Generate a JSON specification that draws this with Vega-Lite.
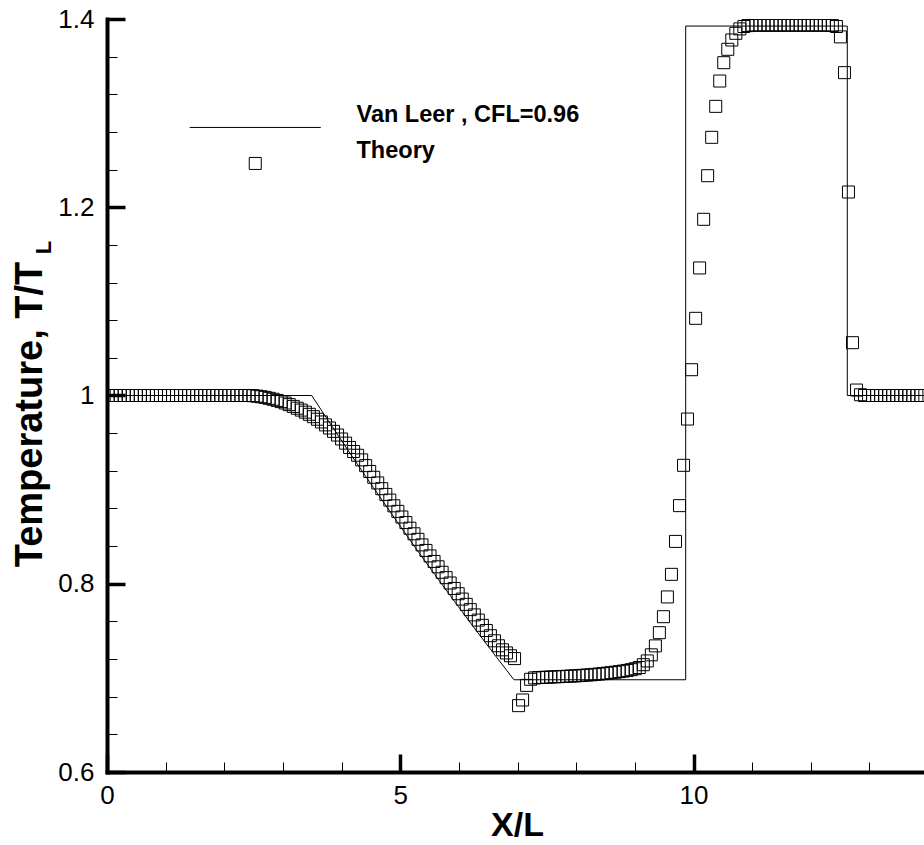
{
  "$schema": "https://vega.github.io/schema/vega-lite/v6.json",
  "width": 817,
  "height": 753,
  "autosize": {"type": "none"},
  "padding": {"left": 107, "top": 19, "right": 0, "bottom": 73},
  "background": "white",
  "config": {"view": {"stroke": null}, "font": "Liberation Sans", "axis": {"domainWidth": 4, "domainColor": "black", "domainCap": "square"}},
  "datasets": {
    "line": [
      {"k": 0, "x": 0, "y": 1},
      {"k": 1, "x": 3.49, "y": 1},
      {"k": 2, "x": 3.84, "y": 0.9669},
      {"k": 3, "x": 4.19, "y": 0.9343},
      {"k": 4, "x": 4.54, "y": 0.9024},
      {"k": 5, "x": 4.89, "y": 0.8709},
      {"k": 6, "x": 5.24, "y": 0.84},
      {"k": 7, "x": 5.59, "y": 0.8097},
      {"k": 8, "x": 5.94, "y": 0.78},
      {"k": 9, "x": 6.29, "y": 0.7507},
      {"k": 10, "x": 6.64, "y": 0.7221},
      {"k": 11, "x": 6.939, "y": 0.698},
      {"k": 12, "x": 9.867, "y": 0.698},
      {"k": 13, "x": 9.867, "y": 1.3925},
      {"k": 14, "x": 12.622, "y": 1.3925},
      {"k": 15, "x": 12.622, "y": 1.0},
      {"k": 16, "x": 14, "y": 1.0}
    ],
    "sq": [
      {"x": 0.02, "y": 1}, {"x": 0.089, "y": 1}, {"x": 0.157, "y": 1}, {"x": 0.226, "y": 1},
      {"x": 0.294, "y": 1}, {"x": 0.363, "y": 1}, {"x": 0.432, "y": 1}, {"x": 0.5, "y": 1},
      {"x": 0.569, "y": 1}, {"x": 0.637, "y": 1}, {"x": 0.706, "y": 1}, {"x": 0.775, "y": 1},
      {"x": 0.843, "y": 1}, {"x": 0.912, "y": 1}, {"x": 0.98, "y": 1}, {"x": 1.049, "y": 1},
      {"x": 1.118, "y": 1}, {"x": 1.186, "y": 1}, {"x": 1.255, "y": 1}, {"x": 1.323, "y": 1},
      {"x": 1.392, "y": 1}, {"x": 1.461, "y": 1}, {"x": 1.529, "y": 1}, {"x": 1.598, "y": 1},
      {"x": 1.666, "y": 1}, {"x": 1.735, "y": 1}, {"x": 1.804, "y": 1}, {"x": 1.872, "y": 1},
      {"x": 1.941, "y": 1}, {"x": 2.009, "y": 1}, {"x": 2.078, "y": 1}, {"x": 2.147, "y": 1},
      {"x": 2.215, "y": 1}, {"x": 2.284, "y": 1}, {"x": 2.352, "y": 1}, {"x": 2.421, "y": 1},
      {"x": 2.49, "y": 0.9998},
      {"x": 2.558, "y": 0.9993}, {"x": 2.627, "y": 0.9987}, {"x": 2.695, "y": 0.998}, {"x": 2.764, "y": 0.997},
      {"x": 2.832, "y": 0.996}, {"x": 2.901, "y": 0.9948}, {"x": 2.97, "y": 0.9935}, {"x": 3.038, "y": 0.992},
      {"x": 3.107, "y": 0.9903}, {"x": 3.176, "y": 0.9884}, {"x": 3.244, "y": 0.9865}, {"x": 3.313, "y": 0.9845},
      {"x": 3.382, "y": 0.9823}, {"x": 3.45, "y": 0.98}, {"x": 3.519, "y": 0.9775}, {"x": 3.588, "y": 0.9748},
      {"x": 3.656, "y": 0.9719}, {"x": 3.725, "y": 0.9688}, {"x": 3.794, "y": 0.9655}, {"x": 3.862, "y": 0.9619},
      {"x": 3.931, "y": 0.958}, {"x": 4.0, "y": 0.9538}, {"x": 4.068, "y": 0.9494}, {"x": 4.136, "y": 0.9448},
      {"x": 4.205, "y": 0.9405}, {"x": 4.273, "y": 0.9365}, {"x": 4.342, "y": 0.9316}, {"x": 4.41, "y": 0.9255},
      {"x": 4.479, "y": 0.9193}, {"x": 4.548, "y": 0.9131}, {"x": 4.616, "y": 0.9071}, {"x": 4.685, "y": 0.901},
      {"x": 4.754, "y": 0.8949}, {"x": 4.822, "y": 0.8889}, {"x": 4.891, "y": 0.8828}, {"x": 4.959, "y": 0.8769},
      {"x": 5.028, "y": 0.8709}, {"x": 5.096, "y": 0.865}, {"x": 5.165, "y": 0.859}, {"x": 5.234, "y": 0.8531},
      {"x": 5.302, "y": 0.8472}, {"x": 5.371, "y": 0.8413}, {"x": 5.439, "y": 0.8354}, {"x": 5.508, "y": 0.8296},
      {"x": 5.577, "y": 0.8237}, {"x": 5.645, "y": 0.818}, {"x": 5.714, "y": 0.8122}, {"x": 5.782, "y": 0.8065},
      {"x": 5.851, "y": 0.8008}, {"x": 5.92, "y": 0.795}, {"x": 5.988, "y": 0.7894}, {"x": 6.057, "y": 0.7837},
      {"x": 6.125, "y": 0.7781}, {"x": 6.194, "y": 0.7725}, {"x": 6.263, "y": 0.7669}, {"x": 6.331, "y": 0.7614},
      {"x": 6.4, "y": 0.7558}, {"x": 6.468, "y": 0.7503}, {"x": 6.537, "y": 0.7448}, {"x": 6.606, "y": 0.7394},
      {"x": 6.674, "y": 0.7341}, {"x": 6.743, "y": 0.7298}, {"x": 6.811, "y": 0.7265}, {"x": 6.88, "y": 0.7235},
      {"x": 6.949, "y": 0.7205},
      {"x": 7.017, "y": 0.6705}, {"x": 7.086, "y": 0.6765}, {"x": 7.154, "y": 0.692}, {"x": 7.223, "y": 0.6985},
      {"x": 7.292, "y": 0.7}, {"x": 7.36, "y": 0.7003}, {"x": 7.429, "y": 0.7005}, {"x": 7.497, "y": 0.7007},
      {"x": 7.566, "y": 0.7009}, {"x": 7.635, "y": 0.7011}, {"x": 7.703, "y": 0.7013}, {"x": 7.772, "y": 0.7015},
      {"x": 7.84, "y": 0.7017}, {"x": 7.909, "y": 0.7019}, {"x": 7.978, "y": 0.7021}, {"x": 8.046, "y": 0.7024},
      {"x": 8.115, "y": 0.7027}, {"x": 8.183, "y": 0.703}, {"x": 8.252, "y": 0.7033}, {"x": 8.321, "y": 0.7037},
      {"x": 8.389, "y": 0.7041}, {"x": 8.458, "y": 0.7045}, {"x": 8.526, "y": 0.705}, {"x": 8.595, "y": 0.7055},
      {"x": 8.664, "y": 0.706}, {"x": 8.732, "y": 0.7066}, {"x": 8.801, "y": 0.7072}, {"x": 8.869, "y": 0.7079},
      {"x": 8.938, "y": 0.7087}, {"x": 9.007, "y": 0.7097}, {"x": 9.075, "y": 0.711}, {"x": 9.144, "y": 0.714},
      {"x": 9.212, "y": 0.718}, {"x": 9.281, "y": 0.7245}, {"x": 9.35, "y": 0.734}, {"x": 9.418, "y": 0.748},
      {"x": 9.487, "y": 0.765}, {"x": 9.555, "y": 0.786}, {"x": 9.624, "y": 0.81}, {"x": 9.693, "y": 0.845},
      {"x": 9.761, "y": 0.883}, {"x": 9.83, "y": 0.9258}, {"x": 9.898, "y": 0.975}, {"x": 9.967, "y": 1.0274},
      {"x": 10.036, "y": 1.082}, {"x": 10.104, "y": 1.1355}, {"x": 10.173, "y": 1.1872}, {"x": 10.241, "y": 1.2335},
      {"x": 10.31, "y": 1.2743}, {"x": 10.379, "y": 1.3072}, {"x": 10.447, "y": 1.3341}, {"x": 10.516, "y": 1.3536},
      {"x": 10.584, "y": 1.3678}, {"x": 10.653, "y": 1.3777}, {"x": 10.722, "y": 1.3848}, {"x": 10.79, "y": 1.3895},
      {"x": 10.859, "y": 1.392}, {"x": 10.927, "y": 1.393}, {"x": 10.996, "y": 1.3935}, {"x": 11.065, "y": 1.3935},
      {"x": 11.133, "y": 1.3935}, {"x": 11.202, "y": 1.3935}, {"x": 11.27, "y": 1.3935}, {"x": 11.339, "y": 1.3935},
      {"x": 11.408, "y": 1.3935}, {"x": 11.476, "y": 1.3935}, {"x": 11.545, "y": 1.3935}, {"x": 11.613, "y": 1.3935},
      {"x": 11.682, "y": 1.3935}, {"x": 11.751, "y": 1.3935}, {"x": 11.819, "y": 1.3935}, {"x": 11.888, "y": 1.3935},
      {"x": 11.956, "y": 1.3935}, {"x": 12.025, "y": 1.3935}, {"x": 12.094, "y": 1.3935}, {"x": 12.162, "y": 1.3935},
      {"x": 12.231, "y": 1.3935}, {"x": 12.299, "y": 1.3935}, {"x": 12.368, "y": 1.3932}, {"x": 12.437, "y": 1.392},
      {"x": 12.505, "y": 1.381}, {"x": 12.574, "y": 1.343}, {"x": 12.642, "y": 1.2162}, {"x": 12.711, "y": 1.0561},
      {"x": 12.78, "y": 1.0058}, {"x": 12.848, "y": 1.0008}, {"x": 12.917, "y": 1}, {"x": 12.985, "y": 1},
      {"x": 13.054, "y": 1}, {"x": 13.123, "y": 1}, {"x": 13.191, "y": 1}, {"x": 13.26, "y": 1},
      {"x": 13.328, "y": 1}, {"x": 13.397, "y": 1}, {"x": 13.466, "y": 1}, {"x": 13.534, "y": 1},
      {"x": 13.603, "y": 1}, {"x": 13.671, "y": 1}, {"x": 13.74, "y": 1}, {"x": 13.809, "y": 1},
      {"x": 13.877, "y": 1}
    ]
  },
  "layer": [
    {
      "data": {"name": "line"},
      "mark": {"type": "line", "color": "black", "strokeWidth": 1, "clip": true},
      "encoding": {
        "x": {
          "field": "x", "type": "quantitative",
          "scale": {"domain": [0, 13.93], "nice": false, "zero": false},
          "axis": {
            "title": "X/L",
            "values": [0, 1, 2, 3, 4, 5, 6, 7, 8, 9, 10, 11, 12, 13],
            "format": "d",
            "labelExpr": "datum.value % 5 === 0 ? datum.label : ''",
            "tickSize": {"condition": {"test": "datum.value % 5 === 0", "value": -18}, "value": -10},
            "tickWidth": {"condition": {"test": "datum.value % 5 === 0", "value": 3.5}, "value": 1},
            "tickColor": "black",
            "domainColor": "black",
            "domainWidth": 4,
            "grid": false,
            "labelFont": "Liberation Sans",
            "labelFontSize": 26,
            "labelColor": "black",
            "labelPadding": 28,
            "labelFlush": false,
            "labelOverlap": false,
            "titleFont": "Liberation Sans",
            "titleFontSize": 34,
            "titleFontWeight": "bold",
            "titleColor": "black",
            "titleX": 410,
            "titleY": 63,
            "titleAlign": "center",
            "titleBaseline": "alphabetic",
            "zindex": 1
          }
        },
        "y": {
          "field": "y", "type": "quantitative",
          "scale": {"domain": [0.6, 1.4], "nice": false, "zero": false},
          "axis": {
            "title": "Temperature, T/T",
            "values": [0.6, 0.64, 0.68, 0.72, 0.76, 0.8, 0.84, 0.88, 0.92, 0.96, 1, 1.04, 1.08, 1.12, 1.16, 1.2, 1.24, 1.28, 1.32, 1.36, 1.4],
            "format": "~g",
            "labelExpr": "abs(datum.value*5 - round(datum.value*5)) < 0.001 ? datum.label : ''",
            "tickSize": {"condition": {"test": "abs(datum.value*5 - round(datum.value*5)) < 0.001", "value": -18}, "value": -10},
            "tickWidth": {"condition": {"test": "abs(datum.value*5 - round(datum.value*5)) < 0.001", "value": 3.5}, "value": 1},
            "tickColor": "black",
            "domainColor": "black",
            "domainWidth": 4,
            "grid": false,
            "labelFont": "Liberation Sans",
            "labelFontSize": 26,
            "labelColor": "black",
            "labelPadding": 31,
            "labelFlush": false,
            "labelOverlap": false,
            "titleFont": "Liberation Sans",
            "titleFontSize": 38,
            "titleFontWeight": "bold",
            "titleColor": "black",
            "titleX": -66,
            "titleY": 395,
            "titleAngle": 270,
            "titleAlign": "center",
            "titleBaseline": "alphabetic",
            "zindex": 1
          }
        },
        "order": {"field": "k", "type": "quantitative"}
      }
    },
    {
      "data": {"name": "sq"},
      "mark": {"type": "point", "shape": "square", "filled": false, "size": 144, "strokeWidth": 1, "color": "black", "opacity": 1, "clip": true},
      "encoding": {
        "x": {"field": "x", "type": "quantitative"},
        "y": {
          "field": "y", "type": "quantitative",
          "axis": {
            "orient": "left",
            "title": "L",
            "labels": false,
            "ticks": false,
            "domain": false,
            "grid": false,
            "titleFont": "Liberation Sans",
            "titleFontSize": 22,
            "titleFontWeight": "bold",
            "titleColor": "black",
            "titleX": -57,
            "titleY": 228,
            "titleAngle": 270,
            "titleAlign": "center",
            "titleBaseline": "alphabetic"
          }
        },
        "shape": {
          "datum": "Theory",
          "type": "nominal",
          "scale": {"domain": ["Van Leer , CFL=0.96", "Theory"], "range": ["M-10.92,0H10.92", "square"]},
          "legend": {
            "orient": "none",
            "legendX": 136.5,
            "legendY": 96.7,
            "title": null,
            "padding": 0,
            "labelFont": "Liberation Sans",
            "labelFontSize": 23.5,
            "labelFontWeight": "bold",
            "labelColor": "black",
            "labelBaseline": "bottom",
            "labelOffset": 89.5,
            "labelLimit": 0,
            "symbolSize": 144,
            "symbolStrokeWidth": 1,
            "symbolStrokeColor": "black",
            "symbolFillColor": "transparent",
            "symbolOpacity": 1,
            "rowPadding": 9
          }
        }
      }
    }
  ],
  "resolve": {"axis": {"y": "independent"}}
}
